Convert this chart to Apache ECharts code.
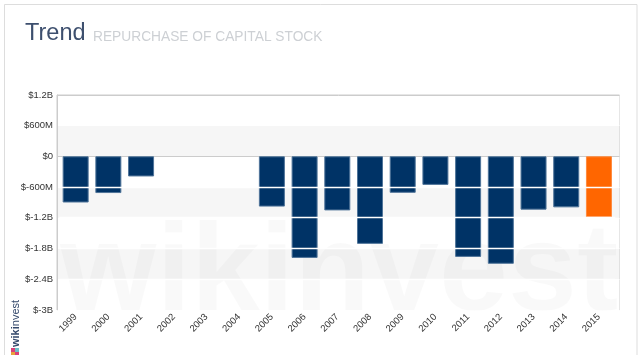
<!DOCTYPE html>
<html>
<head>
<meta charset="utf-8">
<style>
  html, body { margin: 0; padding: 0; background: #fff; }
  #chart { width: 641px; height: 355px; }
</style>
<script src="https://cdn.jsdelivr.net/npm/echarts@6/dist/echarts.min.js"></script>
</head>
<body>
<div id="chart"></div>
<script>
const years = ['1999', '2000', '2001', '2002', '2003', '2004', '2005', '2006', '2007', '2008', '2009', '2010', '2011', '2012', '2013', '2014', '2015']
// in millions
const repurchase = [-905, -720, -395, 0, 0, 0, -985, -1990, -1060, -1715, -715, -560, -1970, -2105, -1045, -1000, -1195]
const whiteLines = [-600, -1200, -1800, -2400]
const lastColor = '#ff6600'
const barColor = '#003366'
const font = '"Liberation Sans", Arial, sans-serif'

function moneyLabel(v) {
  if (v === 0) return '$0'
  const sign = v < 0 ? '-' : ''
  const abs = Math.abs(v)
  return '$' + sign + (abs >= 1000 ? (abs / 1000) + 'B' : abs + 'M')
}

const chart = echarts.init(document.getElementById('chart'), null, { renderer: 'canvas' })
chart.setOption({
  animation: false,
  textStyle: { fontFamily: font },
  title: {
    text: 'Trend',
    left: 20, top: 17,
    textStyle: { fontSize: 23.5, fontWeight: 'normal', color: '#3d4f6e' }
  },
  graphic: [
    { type: 'rect', silent: true, z: -1, shape: { x: 4.5, y: 4.5, width: 632.5, height: 360 }, style: { fill: '#fff', stroke: '#ddd', lineWidth: 1 } },
    { type: 'text', silent: true, z: 1, left: 93, top: 30, style: { text: 'REPURCHASE OF CAPITAL STOCK', fontSize: 13.75, fill: '#cdd0d4', fontFamily: font } },
    // watermark
    { type: 'text', silent: true, z: 1, left: 60, top: 214, style: { text: 'wikinvest', fontSize: 124, fontWeight: 'bold', fill: 'rgba(0,0,0,0.025)', fontFamily: font } },
    { type: 'rect', silent: true, z: 1, shape: { x: 57, y: 310.5, width: 564, height: 44 }, style: { fill: '#fff' } },
    // logo
    {
      type: 'text', silent: true, z: 1, rotation: Math.PI / 2, x: 10, y: 347,
      style: { text: '{b|wiki}nvest', fontSize: 11, fill: '#33486b', fontFamily: font, rich: { b: { fontWeight: 'bold', fontSize: 11, fill: '#33486b', fontFamily: font } } }
    },
    { type: 'rect', silent: true, z: 1, shape: { x: 11, y: 348, width: 4, height: 4 }, style: { fill: '#d9407a' } },
    { type: 'rect', silent: true, z: 1, shape: { x: 15, y: 348, width: 4, height: 4 }, style: { fill: '#6cc0c8' } },
    { type: 'rect', silent: true, z: 1, shape: { x: 11, y: 352, width: 4, height: 3 }, style: { fill: '#e8a23c' } },
    { type: 'rect', silent: true, z: 1, shape: { x: 15, y: 352, width: 4, height: 3 }, style: { fill: '#d9407a' } }
  ],
  grid: [
    { left: 57, top: 95, width: 562.5, height: 215, show: true, borderColor: '#ccc', borderWidth: 1, backgroundColor: 'transparent' },
    { left: 59.3, top: 95, width: 556, height: 214.5 }
  ],
  xAxis: [
    { gridIndex: 0, type: 'value', show: false, min: 0, max: 1 },
    {
      gridIndex: 1, type: 'category', data: years, z: 3,
      axisLine: { show: false }, axisTick: { show: false },
      axisLabel: { interval: 0, rotate: 45, fontSize: 9.5, color: '#333', margin: 6 }
    }
  ],
  yAxis: [
    {
      gridIndex: 0, type: 'value', min: -3000, max: 1200, interval: 600,
      axisLine: { show: true, lineStyle: { color: '#ccc' } }, axisTick: { show: false },
      axisLabel: { fontSize: 9.5, color: '#333', margin: 4, padding: [0, 0, 3, 0], formatter: moneyLabel },
      splitLine: { show: true, lineStyle: { color: ['#fff', '#fff', '#fff', '#fff', '#fff', '#ccc', '#fff', '#ccc'] } },
      splitArea: { show: true, areaStyle: { color: ['#fff', '#f6f6f6', '#fff', '#f6f6f6', '#fff', '#f6f6f6', '#fff'] } }
    },
    { gridIndex: 1, type: 'value', min: -3000, max: 1200, interval: 600, show: false, splitLine: { show: false } }
  ],
  series: [{
    type: 'bar',
    xAxisIndex: 1, yAxisIndex: 1,
    barWidth: 26,
    data: repurchase.map((v, i) => ({
      value: v,
      itemStyle: {
        color: i === repurchase.length - 1 ? lastColor : barColor,
        borderColor: i === repurchase.length - 1 ? '#ff8a3d' : '#4f7499',
        borderWidth: v === 0 ? 0 : 1
      }
    })),
    markLine: {
      silent: true, symbol: 'none', label: { show: false }, animation: false,
      lineStyle: { color: '#fff', width: 1.4, type: 'solid' },
      data: whiteLines.map(v => ({ yAxis: v }))
    }
  }]
})
</script>
</body>
</html>
